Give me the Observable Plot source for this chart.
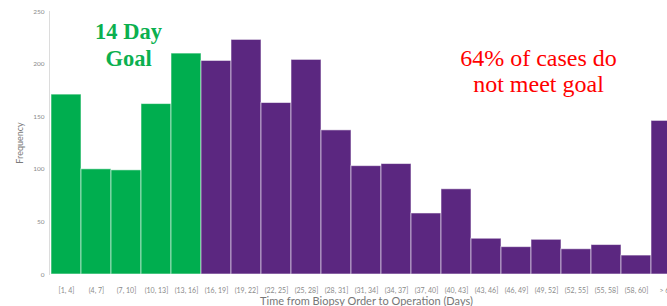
<!DOCTYPE html>
<html>
<head>
<meta charset="utf-8">
<script src="https://cdn.jsdelivr.net/npm/d3@7"></script>
<script src="https://cdn.jsdelivr.net/npm/@observablehq/plot@0.6"></script>
<style>
  html, body { margin: 0; padding: 0; background: #fff; overflow: hidden; }
  #chart svg { display: block; overflow: hidden; }
</style>
</head>
<body>
<div id="chart"></div>
<script>
const bins = ["[1, 4]", "(4, 7]", "(7, 10]", "(10, 13]", "(13, 16]", "(16, 19]", "(19, 22]",
  "(22, 25]", "(25, 28]", "(28, 31]", "(31, 34]", "(34, 37]", "(37, 40]", "(40, 43]",
  "(43, 46]", "(46, 49]", "(49, 52]", "(52, 55]", "(55, 58]", "(58, 60]", "> 60"];
const counts = [171, 100, 99, 162, 210, 203, 223, 163, 204, 137, 103, 105, 58, 81, 34, 26, 33, 24, 28, 18, 146];
const status = ["goal", "goal", "goal", "goal", "goal", "over", "over", "over", "over", "over", "over",
  "over", "over", "over", "over", "over", "over", "over", "over", "over", "over"];
const yTicks = [0, 50, 100, 150, 200, 250];
const goalText = ["14 Day", "Goal"];
const missText = ["64% of cases do", "not meet goal"];

const data = bins.map((b, i) => ({bin: b, count: counts[i], status: status[i]}));
const colors = {goal: "#00ae4f", over: "#5b2780"};

const chart = Plot.plot({
  width: 667,
  height: 306,
  marginTop: 11,
  marginBottom: 32,
  marginLeft: 49,
  marginRight: 0,
  style: {fontFamily: "Lato, 'Open Sans', sans-serif", background: "#fff"},
  x: {domain: bins, range: [49, 682], padding: 0},
  y: {domain: [0, 250]},
  marks: [
    Plot.barY(data, {x: "bin", y: "count", fill: d => colors[d.status],
      stroke: "#ffffff", strokeOpacity: 0.55, strokeWidth: 1}),
    Plot.frame({anchor: "left", stroke: "#dcdcdc"}),
    Plot.axisY({ticks: yTicks, tickSize: 0, tickPadding: 5, fontSize: 6.5, color: "#8a8a8a",
      label: null}),
    Plot.axisX({tickSize: 0, tickPadding: 14, fontSize: 7, color: "#8a8a8a", label: null}),
    Plot.text(["Frequency"], {frameAnchor: "left", textAnchor: "middle", rotate: -90, dx: -29,
      fontSize: 9, fill: "#7a7a7a"}),
    Plot.text(["Time from Biopsy Order to Operation (Days)"], {frameAnchor: "bottom", dx: 8,
      dy: 30, fontSize: 11, fill: "#777"}),
    Plot.text([goalText.join("\n")], {x: () => bins[2], y: () => 219, dx: 2, lineAnchor: "middle",
      fontSize: 22.5, fontWeight: "bold", fill: "#0bb04f",
      fontFamily: "'Liberation Serif', 'DejaVu Serif', serif", lineHeight: 1.17}),
    Plot.text([missText.join("\n")], {x: () => bins[16], y: () => 194, dx: -8, lineAnchor: "middle",
      fontSize: 24, fill: "#ff0000",
      fontFamily: "'Liberation Serif', 'DejaVu Serif', serif", lineHeight: 1.1})
  ]
});
document.getElementById("chart").appendChild(chart);
</script>
</body>
</html>
